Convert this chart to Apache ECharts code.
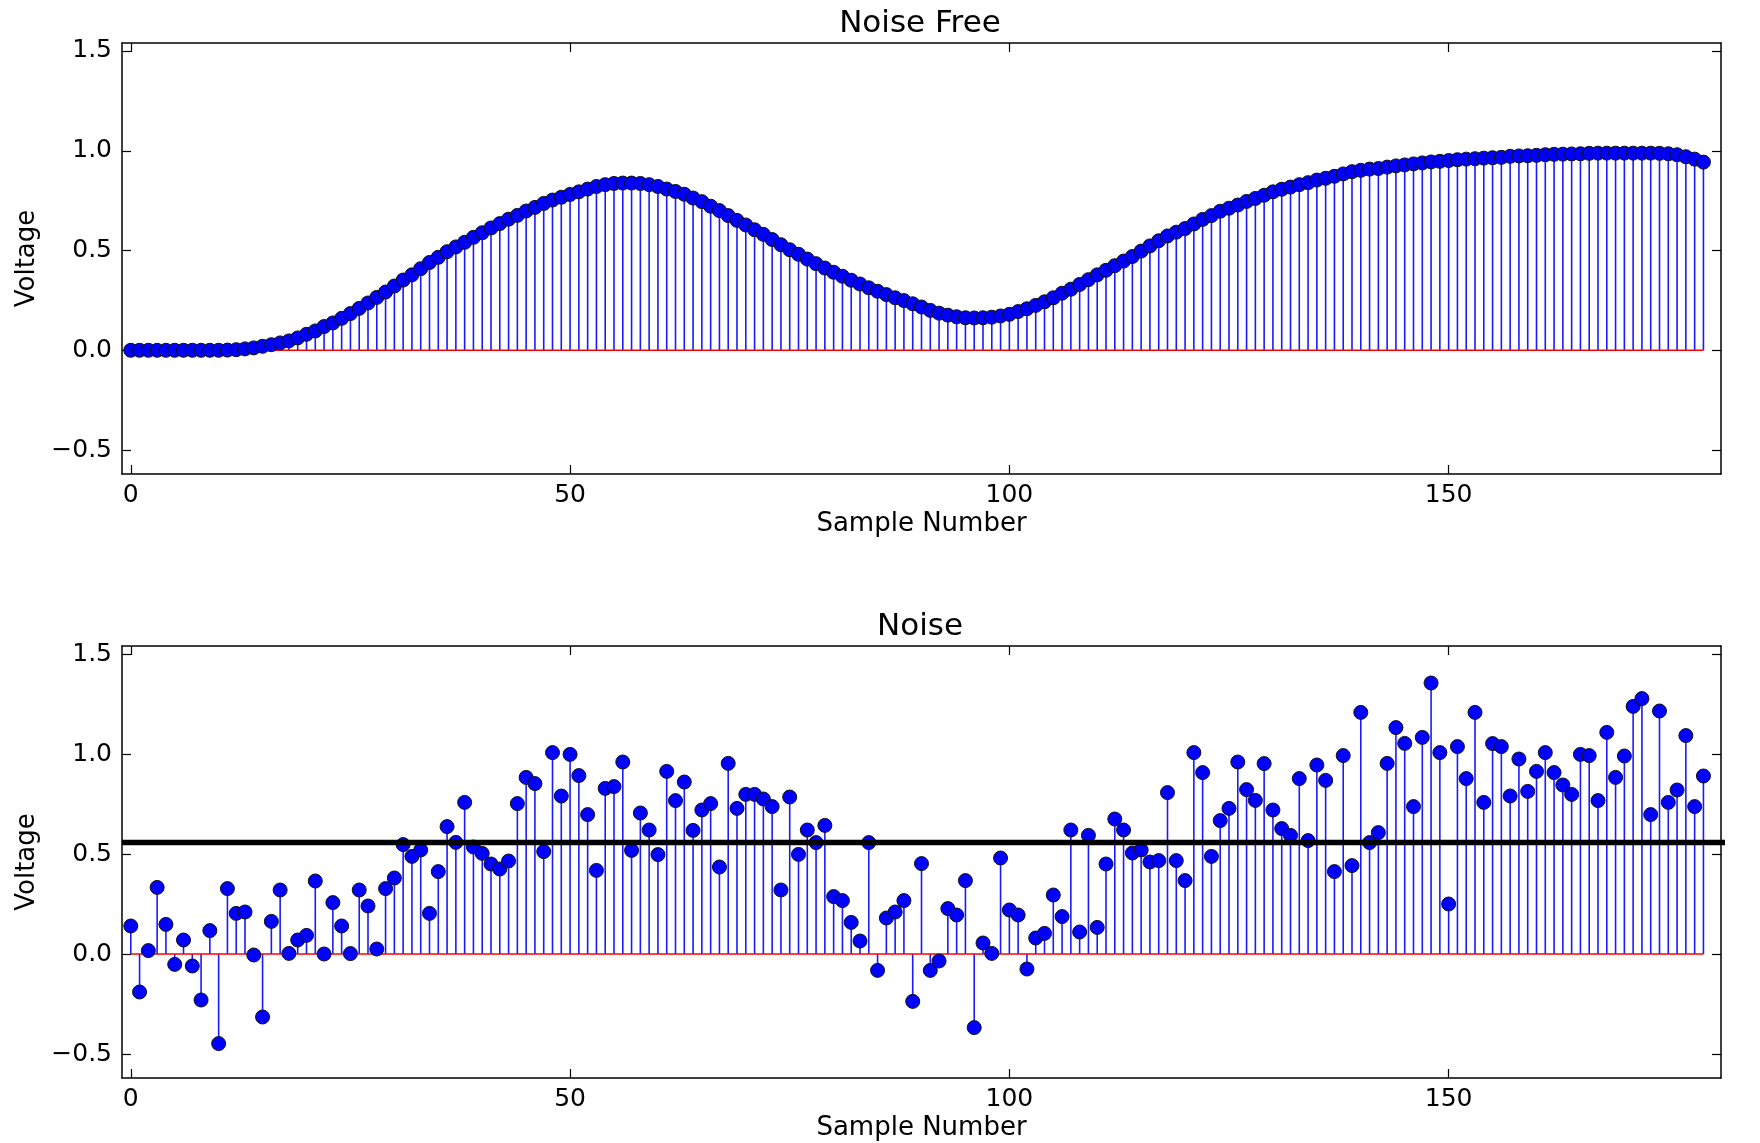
<!DOCTYPE html>
<html><head><meta charset="utf-8">
<script src="https://cdn.jsdelivr.net/npm/echarts@6/dist/echarts.min.js"></script>
<style>html,body{margin:0;padding:0;background:#fff}#c{width:1760px;height:1143px}</style>
</head><body><div id="c"></div>
<script>
// ---------------- data ----------------
const titles = ['Noise Free', 'Noise'];
const xLabel = 'Sample Number';
const yLabel = 'Voltage';
const xTickValues = [0, 50, 100, 150];
const yTickValues = [-0.5, 0, 0.5, 1.0, 1.5];

const cleanValues = [
0,0,0,0,0,0,0,0,0,0,
0,0.001,0.003,0.007,0.012,0.02,0.028,0.037,0.047,0.062,
0.08,0.097,0.119,0.137,0.16,0.184,0.21,0.237,0.265,0.292,
0.322,0.352,0.378,0.409,0.44,0.466,0.494,0.518,0.541,0.566,
0.589,0.613,0.635,0.657,0.676,0.698,0.716,0.736,0.753,0.767,
0.781,0.794,0.808,0.821,0.83,0.836,0.838,0.838,0.836,0.83,
0.821,0.808,0.796,0.782,0.763,0.745,0.722,0.7,0.675,0.651,
0.628,0.604,0.581,0.555,0.529,0.504,0.481,0.457,0.434,0.412,
0.391,0.371,0.351,0.332,0.313,0.296,0.279,0.263,0.249,0.233,
0.217,0.2,0.186,0.176,0.168,0.163,0.162,0.163,0.166,0.172,
0.18,0.194,0.208,0.225,0.243,0.263,0.286,0.306,0.33,0.354,
0.378,0.401,0.424,0.447,0.47,0.497,0.523,0.549,0.573,0.592,
0.61,0.633,0.656,0.675,0.697,0.712,0.728,0.746,0.761,0.777,
0.794,0.807,0.818,0.83,0.84,0.853,0.862,0.872,0.884,0.895,
0.902,0.908,0.911,0.918,0.924,0.929,0.934,0.939,0.944,0.947,
0.951,0.955,0.958,0.96,0.963,0.965,0.967,0.972,0.974,0.975,
0.977,0.98,0.982,0.983,0.984,0.985,0.987,0.988,0.988,0.988,
0.988,0.988,0.988,0.988,0.987,0.985,0.98,0.97,0.958,0.943
];

const noisyValues = [
0.14,-0.19,0.017,0.333,0.148,-0.052,0.07,-0.06,-0.23,0.117,
-0.448,0.327,0.203,0.21,-0.005,-0.315,0.163,0.32,0.003,0.07,
0.093,0.365,0.0,0.257,0.14,0.002,0.32,0.24,0.025,0.327,
0.38,0.547,0.488,0.52,0.203,0.412,0.637,0.558,0.758,0.535,
0.503,0.45,0.425,0.465,0.752,0.883,0.852,0.512,1.007,0.79,
0.998,0.892,0.697,0.418,0.828,0.837,0.96,0.518,0.705,0.62,
0.497,0.913,0.767,0.86,0.618,0.72,0.752,0.435,0.953,0.728,
0.798,0.798,0.775,0.737,0.32,0.785,0.498,0.62,0.557,0.643,
0.287,0.267,0.158,0.065,0.557,-0.082,0.18,0.21,0.267,-0.237,
0.452,-0.082,-0.035,0.227,0.195,0.367,-0.368,0.055,0.003,0.48,
0.22,0.195,-0.075,0.08,0.103,0.295,0.187,0.62,0.11,0.593,
0.133,0.45,0.675,0.62,0.505,0.52,0.46,0.467,0.807,0.467,
0.367,1.007,0.907,0.488,0.667,0.728,0.96,0.822,0.768,0.952,
0.72,0.627,0.593,0.877,0.567,0.945,0.868,0.412,0.992,0.442,
1.208,0.557,0.607,0.953,1.132,1.053,0.737,1.083,1.355,1.007,
0.25,1.037,0.877,1.208,0.758,1.052,1.037,0.79,0.975,0.813,
0.913,1.007,0.907,0.845,0.798,0.998,0.992,0.767,1.108,0.883,
0.99,1.238,1.277,0.697,1.215,0.758,0.82,1.092,0.737,0.89
];

const thresholdLevel = 0.558;
const thresholdSpan = [-1, 186];

// ---------------- chart ----------------
const FONT = '"DejaVu Sans"';
const X_MIN = -1, X_MAX = 181, Y_MIN = -0.62, Y_MAX = 1.54;
const gridBoxes = [
  {left: 122, right: 39, top: 43, height: 431},
  {left: 122, right: 39, top: 646, height: 432}
];
const datasets = [cleanValues, noisyValues];

const fmtY = v => (v < 0 ? '\u2212' : '') + Math.abs(v).toFixed(1);
const axisLineStyle = {color: '#000', width: 1.5};
const tickStyle = {color: '#000', width: 1.2};

const xAxes = [], yAxes = [], series = [], titleOpts = [];
gridBoxes.forEach((gb, g) => {
  xAxes.push({
    type: 'value', gridIndex: g, min: X_MIN, max: X_MAX, position: 'bottom',
    axisLine: {show: true, onZero: false, lineStyle: axisLineStyle},
    axisTick: {show: true, inside: true, length: 9, customValues: xTickValues, lineStyle: tickStyle},
    axisLabel: {show: true, customValues: xTickValues, margin: 9, fontSize: 25, fontFamily: FONT, color: '#000', formatter: v => String(v)},
    splitLine: {show: false},
    name: xLabel, nameLocation: 'middle', nameGap: 37,
    nameTextStyle: {fontSize: 26, fontFamily: FONT, color: '#000'}
  });
  xAxes.push({
    type: 'value', gridIndex: g, min: X_MIN, max: X_MAX, position: 'top',
    axisLine: {show: true, onZero: false, lineStyle: axisLineStyle},
    axisTick: {show: true, inside: true, length: 9, customValues: xTickValues, lineStyle: tickStyle},
    axisLabel: {show: false}, splitLine: {show: false}
  });
  yAxes.push({
    type: 'value', gridIndex: g, min: Y_MIN, max: Y_MAX, position: 'left',
    axisLine: {show: true, onZero: false, lineStyle: axisLineStyle},
    axisTick: {show: true, inside: true, length: 9, customValues: yTickValues, lineStyle: tickStyle},
    axisLabel: {show: true, customValues: yTickValues, margin: 10, fontSize: 25, fontFamily: FONT, color: '#000', formatter: fmtY},
    splitLine: {show: false},
    name: yLabel, nameLocation: 'middle', nameGap: 80, nameRotate: 90,
    nameTextStyle: {fontSize: 26, fontFamily: FONT, color: '#000'}
  });
  yAxes.push({
    type: 'value', gridIndex: g, min: Y_MIN, max: Y_MAX, position: 'right',
    axisLine: {show: true, onZero: false, lineStyle: axisLineStyle},
    axisTick: {show: true, inside: true, length: 9, customValues: yTickValues, lineStyle: tickStyle},
    axisLabel: {show: false}, splitLine: {show: false}
  });

  const vals = datasets[g];
  const pts = vals.map((v, i) => [i, v]);
  series.push({
    type: 'custom', xAxisIndex: 2 * g, yAxisIndex: 2 * g, data: pts, z: 1, silent: true,
    renderItem: (params, api) => {
      const x = api.value(0), y = api.value(1);
      const p0 = api.coord([x, 0]);
      const p1 = api.coord([x, y]);
      return {type: 'line', shape: {x1: p0[0], y1: p0[1], x2: p1[0], y2: p1[1]},
              style: {stroke: '#1a1aff', lineWidth: 1.6}};
    }
  });
  series.push({
    type: 'line', xAxisIndex: 2 * g, yAxisIndex: 2 * g, z: 2, silent: true,
    data: [[0, 0], [vals.length - 1, 0]], symbol: 'none',
    lineStyle: {color: '#ff0000', width: 1.6}
  });
  series.push({
    type: 'scatter', xAxisIndex: 2 * g, yAxisIndex: 2 * g, z: 3, silent: true,
    data: pts, symbol: 'circle', symbolSize: 14,
    itemStyle: {color: '#0000ff', borderColor: '#111', borderWidth: 1, opacity: 1}
  });
  if (g === 1) {
    series.push({
      type: 'line', xAxisIndex: 2 * g, yAxisIndex: 2 * g, z: 4, silent: true, clip: false,
      data: thresholdSpan.map(x => [x, thresholdLevel]), symbol: 'none',
      lineStyle: {color: '#000', width: 5.5}
    });
  }
  titleOpts.push({
    text: titles[g], left: 915, textAlign: 'center', top: gb.top - 40,
    textStyle: {fontSize: 31, fontFamily: FONT, fontWeight: 'normal', color: '#000'}
  });
});

const chart = echarts.init(document.getElementById('c'), null, {renderer: 'canvas'});
chart.setOption({
  animation: false,
  backgroundColor: '#fff',
  title: titleOpts,
  grid: gridBoxes.map(b => Object.assign({containLabel: false}, b)),
  xAxis: xAxes,
  yAxis: yAxes,
  series: series
});
</script></body></html>
